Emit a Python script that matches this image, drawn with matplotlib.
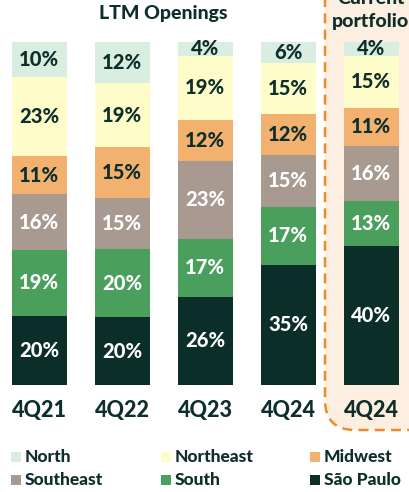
import matplotlib.pyplot as plt
import numpy as np
from matplotlib.patches import FancyBboxPatch, Rectangle

# data
periods = ["4Q21", "4Q22", "4Q23", "4Q24", "4Q24"]
regions = ["North", "Northeast", "Midwest", "Southeast", "South", "São Paulo"]
north = [10, 12, 4, 6, 4]
northeast = [23, 19, 19, 15, 15]
midwest = [11, 15, 12, 12, 11]
southeast = [16, 15, 23, 15, 16]
south = [19, 20, 17, 17, 13]
sao_paulo = [20, 20, 26, 35, 40]

colors = ["#d9ede0", "#fefcc8", "#f3b16f", "#a99a91", "#4b9f5d", "#0c2e29"]
label_colors = ["#0d2e2a", "#0d2e2a", "#0d2e2a", "white", "white", "white"]
dark = "#0d2e2a"
W = "black"

plt.rcParams["font.family"] = ["Lato", "DejaVu Sans"]

fig = plt.figure(figsize=(4.1, 4.92), dpi=100)

# pixel-space background axes for highlight box, titles and legend
bg = fig.add_axes([0, 0, 1, 1], zorder=0)
bg.set_xlim(0, 410)
bg.set_ylim(492, 0)
bg.axis("off")

box = FancyBboxPatch((325, -60), 120, 490, boxstyle="round,pad=0,rounding_size=30",
                     facecolor="#fdeee2", edgecolor="#ee8a2a", linewidth=1.8,
                     linestyle=(0, (4, 2.5)))
bg.add_patch(box)

bg.text(163, 14, "LTM Openings", ha="center", va="center", fontsize=14, color=dark, fontweight=W)
bg.text(371, -2, "Current", ha="center", va="center", fontsize=14, color=dark, fontweight=W)
bg.text(371, 22, "portfolio", ha="center", va="center", fontsize=14, color=dark, fontweight=W)

# stacked bars (bottom to top: Sao Paulo ... North)
ax = fig.add_axes([0, (492 - 385) / 492, 1, 343 / 492], zorder=1)
ax.patch.set_alpha(0)
x = np.arange(len(periods))
ax.set_xlim(-39 / 83, (410 - 39) / 83)
ax.set_ylim(0, 100)
ax.axis("off")

series = [sao_paulo, south, southeast, midwest, northeast, north]
stack_colors = colors[::-1]
stack_labels = label_colors[::-1]
totals = np.sum(series, axis=0)
bottom = np.zeros(len(periods))
for vals, c, lc in zip(series, stack_colors, stack_labels):
    h = np.array(vals) / totals * 100
    ax.bar(x, h, bottom=bottom, width=55 / 83, color=c, linewidth=0)
    for xi, b, hh, v in zip(x, bottom, h, vals):
        ax.text(xi, b + hh / 2, f"{v}%", ha="center", va="center",
                fontsize=14.5, color=lc, fontweight=W)
    bottom += h

for xi, p in zip(x, periods):
    ax.text(xi, -7.3, p, ha="center", va="center", fontsize=15.5, color=dark,
            fontweight=W, clip_on=False)

# legend
leg_x = [11, 161, 310]
leg_y = [457, 480]
for i, (name, c) in enumerate(zip(regions, colors)):
    lx = leg_x[i % 3]
    ly = leg_y[i // 3]
    bg.add_patch(Rectangle((lx, ly - 5), 10, 10, facecolor=c, linewidth=0))
    bg.text(lx + 14, ly, name, ha="left", va="center", fontsize=12.5, color=dark, fontweight=W)

fig.savefig("out.png", dpi=100)
